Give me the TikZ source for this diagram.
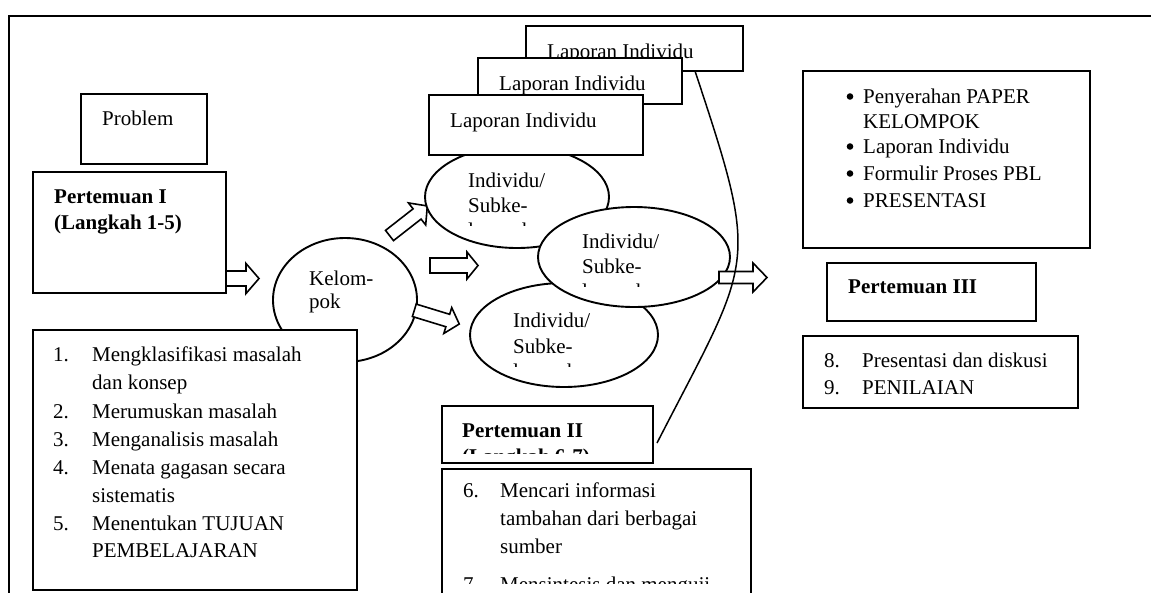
\documentclass[tikz,border=0pt]{standalone}
\usepackage{fontspec}
\setmainfont{Liberation Serif}
\usetikzlibrary{shapes.geometric}
\newcommand\mysize{\fontsize{21}{25}\selectfont}
\begin{document}
\begin{tikzpicture}[x=1pt,y=-1pt,
  box/.style={draw, fill=white, line width=2pt, inner sep=0pt, rectangle},
  ell/.style={draw, fill=white, line width=1.9pt, inner sep=0pt, ellipse},
  txt/.style={anchor=base west, inner sep=0pt, font=\mysize},
  btxt/.style={anchor=base west, inner sep=0pt, font=\mysize\bfseries},
  arrowbox/.style={draw, fill=white, line width=1.6pt, line join=miter},
  curveline/.style={draw, line width=1.5pt},
  frame/.style={draw, line width=2.2pt},
  pics/barrow/.style n args={4}{code={
    \draw[arrowbox] (0,-#3) -- ({#1-#2},-#3) -- ({#1-#2},-#4) -- (#1,0) -- ({#1-#2},#4) -- ({#1-#2},#3) -- (0,#3) -- cycle;
  }}
]
\clip (0,0) rectangle (1151,592);
\fill[white] (0,0) rectangle (1151,592);
% outer frame
\draw[frame] (9,16) rectangle (1200,700);

% Problem
\node[box, minimum width=126pt, minimum height=70pt] (prob) at (144,129) {};
\node[txt] (probT) at (102,125) {Problem};

% Pertemuan I
\node[box, minimum width=193pt, minimum height=121pt] (p1) at (129.5,232.5) {};
\node[btxt] (p1a) at (54,203) {Pertemuan I};
\node[btxt] (p1b) at (54,229) {(Langkah 1-5)};

% arrow P1 -> Kelompok
\pic at (226,278.5) {barrow={33}{13}{7.5}{15}};

% Kelompok
\node[ell, minimum width=144pt, minimum height=124pt] (kel) at (345,300) {};
\node[txt] (kelA) at (309,285) {Kelom-};
\node[txt] (kelB) at (309,308) {pok};

% arrows from Kelompok
\pic[rotate=38] at (389.5,235.5) {barrow={48}{13}{6.5}{14}};
\pic at (430,265.5) {barrow={48}{11}{7.5}{13.5}};
\pic[rotate=-17] at (414.3,310.3) {barrow={47}{12}{6.5}{13.5}};

% list 1-5
\node[box, minimum width=324pt, minimum height=260pt] (list1) at (195,460) {};
\node[txt] (n1) at (53,361) {1.};
\node[txt] (t1a) at (92,361) {Mengklasifikasi masalah};
\node[txt] (t1b) at (92,389) {dan konsep};
\node[txt] (n2) at (53,418) {2.};
\node[txt] (t2) at (92,418) {Merumuskan masalah};
\node[txt] (n3) at (53,446) {3.};
\node[txt] (t3) at (92,446) {Menganalisis masalah};
\node[txt] (n4) at (53,474) {4.};
\node[txt] (t4a) at (92,474) {Menata gagasan secara};
\node[txt] (t4b) at (92,502) {sistematis};
\node[txt] (n5) at (53,530) {5.};
\node[txt] (t5a) at (92,530) {Menentukan TUJUAN};
\node[txt] (t5b) at (92,557) {PEMBELAJARAN};

% Individu ellipses
\node[ell, minimum width=184pt, minimum height=102pt] (e1) at (517,197) {};
\node[txt] (e1a) at (468,187) {Individu/};
\node[txt] (e1b) at (468,212) {Subke-};
\begin{scope}
  \clip (440,214) rectangle (600,225.5);
  \node[txt] (e1c) at (468,237) {lompok};
\end{scope}

\node[ell, minimum width=188pt, minimum height=104pt] (e3) at (564,335) {};
\node[txt] (e3a) at (513,327) {Individu/};
\node[txt] (e3b) at (513,353) {Subke-};
\begin{scope}
  \clip (490,355) rectangle (640,366);
  \node[txt] (e3c) at (513,378) {lompok};
\end{scope}

\node[ell, minimum width=192pt, minimum height=100pt] (e2) at (634,257) {};
\node[txt] (e2a) at (582,248) {Individu/};
\node[txt] (e2b) at (582,273) {Subke-};
\begin{scope}
  \clip (560,275) rectangle (720,286.5);
  \node[txt] (e2c) at (582,298) {lompok};
\end{scope}

% Laporan boxes
\node[box, minimum width=217pt, minimum height=45pt] (L3) at (634.5,48.5) {};
\node[txt] (L3t) at (547,58) {Laporan Individu};
\node[box, minimum width=204pt, minimum height=46pt] (L2) at (580,81) {};
\node[txt] (L2t) at (499,90) {Laporan Individu};
\node[box, minimum width=214pt, minimum height=60pt] (L1) at (536,125) {};
\node[txt] (L1t) at (450,127) {Laporan Individu};

% arrow from E2
\pic at (719,277.5) {barrow={48}{14}{6}{14.5}};

% Pertemuan II
\node[box, minimum width=211pt, minimum height=57pt] (p2) at (547.5,434.5) {};
\node[btxt] (p2a) at (462,437) {Pertemuan II};
\begin{scope}
  \clip (445,440) rectangle (650,453.5);
  \node[btxt] (p2b) at (462,463) {(Langkah 6-7)};
\end{scope}

% connector curve
\coordinate (cs) at (695,71);
\coordinate (ce) at (657,443);
\draw[curveline] (cs) .. controls (761,270) and (753,256) .. (ce);

% list 6-7
\node[box, minimum width=309pt, minimum height=151pt] (list2) at (596.5,544.5) {};
\node[txt] (n6) at (463,497) {6.};
\node[txt] (t6a) at (500,497) {Mencari informasi};
\node[txt] (t6b) at (500,525) {tambahan dari berbagai};
\node[txt] (t6c) at (500,553) {sumber};
\begin{scope}
  \clip (445,560) rectangle (748,583.5);
  \node[txt] (n7) at (463,591) {7.};
  \node[txt] (t7) at (500,591) {Mensintesis dan menguji};
\end{scope}

% bullet box
\node[box, minimum width=287pt, minimum height=177pt] (bul) at (946.5,159.5) {};
\fill (850,96.5) circle (3.3);
\node[txt] (b1a) at (863,103) {Penyerahan PAPER};
\node[txt] (b1b) at (863,128) {KELOMPOK};
\fill (850,146.5) circle (3.3);
\node[txt] (b2) at (863,153) {Laporan Individu};
\fill (850,173.5) circle (3.3);
\node[txt] (b3) at (863,180) {Formulir Proses PBL};
\fill (850,200.5) circle (3.3);
\node[txt] (b4) at (863,207) {PRESENTASI};

% Pertemuan III
\node[box, minimum width=209pt, minimum height=58pt] (p3) at (931.5,292) {};
\node[btxt] (p3a) at (848,293) {Pertemuan III};

% list 8-9
\node[box, minimum width=275pt, minimum height=72pt] (list3) at (940.5,372) {};
\node[txt] (n8) at (824,367) {8.};
\node[txt] (t8) at (862,367) {Presentasi dan diskusi};
\node[txt] (n9) at (824,394) {9.};
\node[txt] (t9) at (862,394) {PENILAIAN};
\end{tikzpicture}
\end{document}
